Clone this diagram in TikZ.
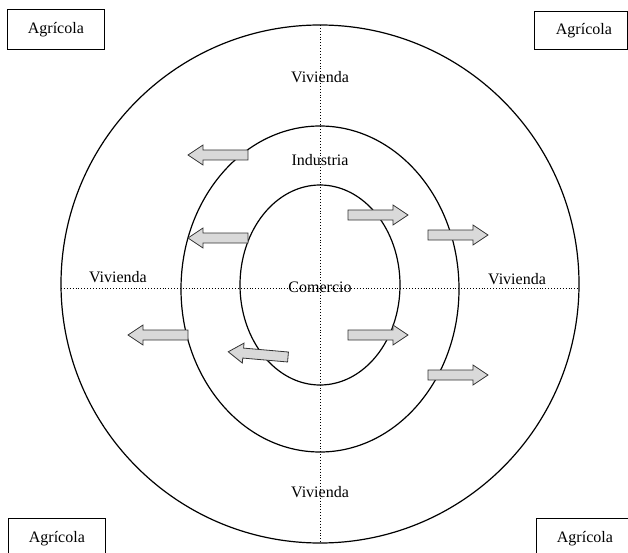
\documentclass[tikz,border=0pt]{standalone}
\usepackage{fontspec}
\setmainfont{Liberation Serif}
\tikzset{
  ring/.style={draw=black, line width=1.2pt},
  axis/.style={draw=black, dotted, line width=0.9pt},
  lbl/.style={font=\fontsize{16}{18}\selectfont, inner sep=0pt},
  box/.style={draw=black, line width=0.8pt, font=\fontsize{16}{18}\selectfont, minimum height=40pt, inner sep=0pt, anchor=north west},
  blockarrow/.style={draw=black!80, fill=black!15, line width=0.8pt, line join=miter}
}
\newcommand{\barrow}[3]{%
  \draw[blockarrow, shift={(#1,#2)}, rotate=#3]
    (0,-5) -- (45,-5) -- (45,-10) -- (60,0) -- (45,10) -- (45,5) -- (0,5) -- cycle;}
\begin{document}
\begin{tikzpicture}[x=1pt,y=-1pt]
\clip (0,0) rectangle (628,553);
\useasboundingbox (0,0) rectangle (628,553);
% rings
\draw[ring] (320,284) circle [radius=259];
\draw[ring] (320,289) ellipse [x radius=139, y radius=163];
\draw[ring] (320,285) ellipse [x radius=80, y radius=100];
% axes
\coordinate (vt) at (320,25);
\coordinate (vb) at (320,543);
\coordinate (hl) at (61,288);
\coordinate (hr) at (579,288);
\draw[axis] (vt) -- (vb);
\draw[axis] (hl) -- (hr);
% labels
\node[lbl] (vtop) at (320,77) {Vivienda};
\node[lbl] (ind) at (320,160) {Industria};
\node[lbl] (com) at (320,287) {Comercio};
\node[lbl] (vleft) at (118,277) {Vivienda};
\node[lbl] (vright) at (517,279) {Vivienda};
\node[lbl] (vbot) at (320,492) {Vivienda};
% boxes
\node[box, minimum width=97pt] (a1) at (7,9) {Agrícola};
\node[box, minimum width=93pt, minimum height=38pt] (a2) at (534,11) {\hspace{6pt}Agrícola};
\node[box, minimum width=97pt] (a3) at (8,518) {Agrícola};
\node[box, minimum width=97pt] (a4) at (536,518) {Agrícola};
% arrows (tail x, tail y, direction)
\barrow{248}{155}{180}
\barrow{248}{238}{180}
\barrow{188}{335}{180}
\barrow{288}{357}{175}
\barrow{348}{215}{0}
\barrow{428}{235}{0}
\barrow{348}{335}{0}
\barrow{428}{375}{0}
\end{tikzpicture}
\end{document}
